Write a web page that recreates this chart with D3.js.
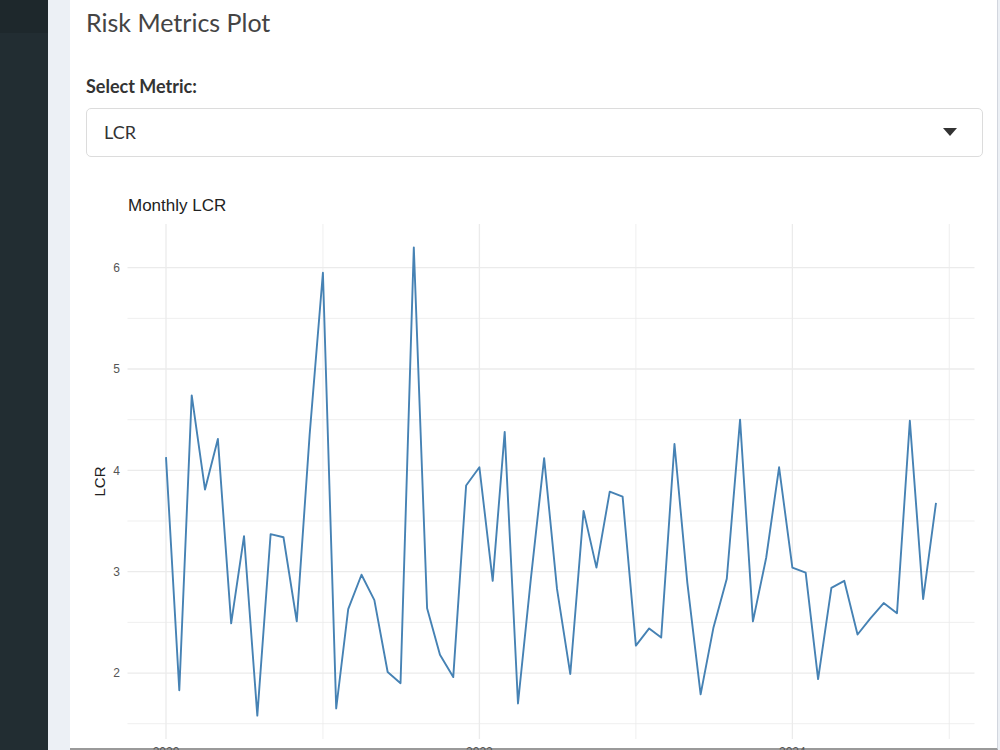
<!DOCTYPE html>
<html>
<head>
<meta charset="utf-8">
<script src="https://cdn.jsdelivr.net/npm/d3@7"></script>
<style>
  body { margin: 0; width: 1000px; height: 750px; overflow: hidden; background: #ecf0f5; font-family: Lato, "Noto Sans", sans-serif; }
  #sidebar { position: absolute; left: 0; top: 0; width: 48px; height: 750px; background: #222d32; }
  #sidebar-top { position: absolute; left: 0; top: 0; width: 48px; height: 33px; background: #1e282c; }
  #box { position: absolute; left: 70px; top: -20px; width: 927px; height: 768px; background: #fff; border-right: 1px solid #d2d6de; border-bottom: 2px solid #9a9a9a; }
  #titulo { position: absolute; left: 86px; top: 7px; font-size: 25px; color: #444; }
  #label { position: absolute; left: 86px; top: 75px; font-size: 18px; font-weight: bold; color: #333; }
  #select { position: absolute; left: 86px; top: 108px; width: 897px; height: 49px; border: 1px solid #dcdcdc; border-radius: 5px; background: #fff; box-sizing: border-box; }
  #select span { position: absolute; left: 17px; top: 12px; font-size: 18px; color: #333; }
  #caret { position: absolute; left: 856px; top: 19px; width: 0; height: 0; border-left: 7px solid transparent; border-right: 7px solid transparent; border-top: 8px solid #333; }
  #vis { position: absolute; left: 0; top: 0; }
</style>
</head>
<body>
<div id="sidebar"><div id="sidebar-top"></div></div>
<div id="box"></div>
<div id="titulo">Risk Metrics Plot</div>
<div id="label">Select Metric:</div>
<div id="select"><span>LCR</span><div id="caret"></div></div>
<div id="vis"></div>
<script>
// Datos: LCR mensual, ene 2020 - dic 2024
const metricName = "LCR"
const startMonth = new Date(2020, 0, 1)
const lcrValues = [
  4.13, 1.83, 4.74, 3.81, 4.31, 2.49, 3.35, 1.58, 3.37, 3.34, 2.51, 4.35,
  5.95, 1.65, 2.63, 2.97, 2.72, 2.01, 1.90, 6.20, 2.64, 2.18, 1.96, 3.85,
  4.03, 2.91, 4.38, 1.70, 2.93, 4.12, 2.83, 1.99, 3.60, 3.04, 3.79, 3.74,
  2.27, 2.44, 2.35, 4.26, 2.89, 1.79, 2.45, 2.93, 4.50, 2.51, 3.14, 4.03,
  3.04, 2.99, 1.94, 2.84, 2.91, 2.38, 2.54, 2.69, 2.59, 4.49, 2.73, 3.68
]
const yTicks = [2, 3, 4, 5, 6]
const yMinorTicks = [1.5, 2.5, 3.5, 4.5, 5.5, 6.5]
const xTickYears = [2020, 2022, 2024]
const xMinorYears = [2021, 2023, 2025]

// Fechas mensuales para cada valor
const months = lcrValues.map((_, i) => d3.timeMonth.offset(startMonth, i))
const data = months.map((m, i) => ({ date: m, value: lcrValues[i] }))

const SVG = d3.select("#vis")
  .append("svg")
  .attr("width", 1000)
  .attr("height", 750)

const plot = { left: 127.5, right: 974.5, top: 224, bottom: 739 }

// Escalas con 5% de expansión como ggplot
const xExt = d3.extent(data, d => d.date)
const xPad = (xExt[1] - xExt[0]) * 0.05
const escalaX = d3.scaleTime()
  .domain([new Date(+xExt[0] - xPad), new Date(+xExt[1] + xPad)])
  .range([plot.left, plot.right])

const yExt = d3.extent(data, d => d.value)
const yPad = (yExt[1] - yExt[0]) * 0.05
const escalaY = d3.scaleLinear()
  .domain([yExt[0] - yPad, yExt[1] + yPad])
  .range([plot.bottom, plot.top])

const grid = SVG.append("g").attr("stroke", "#ebebeb")

// Grilla menor
grid.selectAll(".ymin")
  .data(yMinorTicks.filter(v => v >= escalaY.domain()[0] && v <= escalaY.domain()[1]))
  .join("line")
  .attr("x1", plot.left).attr("x2", plot.right)
  .attr("y1", d => escalaY(d)).attr("y2", d => escalaY(d))
  .attr("stroke-width", 0.8)

grid.selectAll(".xmin")
  .data(xMinorYears)
  .join("line")
  .attr("x1", d => escalaX(new Date(d, 0, 1))).attr("x2", d => escalaX(new Date(d, 0, 1)))
  .attr("y1", plot.top).attr("y2", plot.bottom)
  .attr("stroke-width", 0.8)

// Grilla mayor
grid.selectAll(".ymaj")
  .data(yTicks)
  .join("line")
  .attr("x1", plot.left).attr("x2", plot.right)
  .attr("y1", d => escalaY(d)).attr("y2", d => escalaY(d))
  .attr("stroke-width", 1.3)

grid.selectAll(".xmaj")
  .data(xTickYears)
  .join("line")
  .attr("x1", d => escalaX(new Date(d, 0, 1))).attr("x2", d => escalaX(new Date(d, 0, 1)))
  .attr("y1", plot.top).attr("y2", plot.bottom)
  .attr("stroke-width", 1.3)

// Etiquetas de ejes
SVG.selectAll(".ylab")
  .data(yTicks)
  .join("text")
  .attr("x", 120)
  .attr("y", d => escalaY(d))
  .attr("dy", "0.35em")
  .attr("text-anchor", "end")
  .attr("font-family", "Liberation Sans, Arial, sans-serif")
  .attr("font-size", 12)
  .attr("fill", "#555")
  .text(d => d)

// Las etiquetas del eje x quedan cortadas por el borde, como en la captura
SVG.selectAll(".xlab")
  .data(xTickYears)
  .join("text")
  .attr("x", d => escalaX(new Date(d, 0, 1)))
  .attr("y", 756)
  .attr("text-anchor", "middle")
  .attr("font-family", "Liberation Sans, Arial, sans-serif")
  .attr("font-size", 12)
  .attr("fill", "#555")
  .text(d => d)

SVG.append("text")
  .attr("transform", `translate(105, ${(plot.top + plot.bottom) / 2}) rotate(-90)`)
  .attr("text-anchor", "middle")
  .attr("font-family", "Liberation Sans, Arial, sans-serif")
  .attr("font-size", 15)
  .attr("fill", "#222")
  .text(metricName)

SVG.append("text")
  .attr("x", 128)
  .attr("y", 211)
  .attr("font-family", "Liberation Sans, Arial, sans-serif")
  .attr("font-size", 17)
  .attr("fill", "#222")
  .text(`Monthly ${metricName}`)

// Línea
const linea = d3.line()
  .x(d => escalaX(d.date))
  .y(d => escalaY(d.value))

SVG.append("path")
  .datum(data)
  .attr("d", linea)
  .attr("fill", "none")
  .attr("stroke", "steelblue")
  .attr("stroke-width", 1.9)
  .attr("stroke-linejoin", "round")
</script>
</body>
</html>
